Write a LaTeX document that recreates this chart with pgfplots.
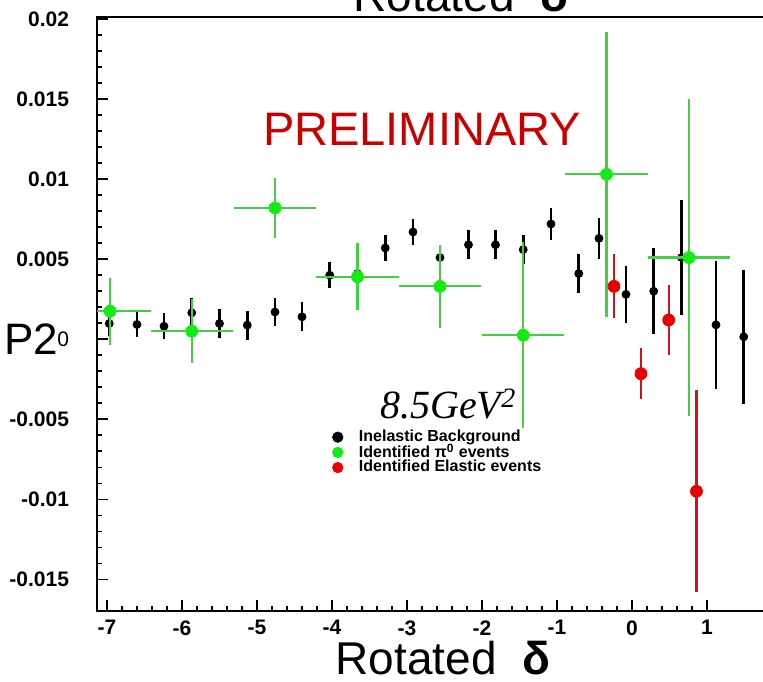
\documentclass[border=0pt]{standalone}
\usepackage{fontspec}
\usepackage{pgfplots}
\usepackage{pgfplotstable}
\pgfplotsset{compat=1.18}
\setmainfont{Liberation Sans}
\newfontfamily\tnr{Liberation Serif}

\definecolor{gmark}{RGB}{20,235,20}
\definecolor{gline}{RGB}{70,205,70}
\definecolor{rmark}{RGB}{235,0,0}
\definecolor{rline}{RGB}{205,20,20}
\definecolor{prelim}{RGB}{200,0,0}

% inelastic background: x, P2, error
\pgfplotstableread{
x y ey
-6.97 0.00098 0.0008
-6.60 0.00092 0.00078
-6.24 0.00081 0.0008
-5.87 0.00165 0.0009
-5.50 0.00098 0.0009
-5.13 0.00088 0.0009
-4.76 0.0017 0.0009
-4.40 0.0014 0.0009
-4.03 0.0040 0.0008
-3.66 0.0041 0.0008
-3.29 0.0057 0.0008
-2.92 0.0067 0.0008
-2.56 0.0051 0.0007
-2.18 0.0059 0.0009
-1.82 0.0059 0.0009
-1.45 0.0056 0.0009
-1.08 0.0072 0.0010
-0.71 0.0041 0.0012
-0.44 0.0063 0.0013
-0.08 0.0028 0.0018
0.29 0.0030 0.0027
0.66 0.0051 0.0036
1.12 0.0009 0.0040
1.49 0.00015 0.0042
}\inel

% identified pi0 events
\pgfplotstableread{
x y ex ey
-6.96 0.00175 0.55 0.0021
-5.87 0.0005 0.55 0.0020
-4.76 0.0082 0.55 0.0019
-3.66 0.0039 0.55 0.0021
-2.56 0.0033 0.55 0.0026
-1.45 0.00025 0.55 0.0058
-0.34 0.0103 0.55 0.0089
0.76 0.0051 0.55 0.0099
}\pion

% identified elastic events
\pgfplotstableread{
x y ey
-0.24 0.0033 0.0020
0.12 -0.00215 0.0016
0.49 0.0012 0.0022
0.86 -0.0095 0.0063
}\elas

\begin{document}
\begin{tikzpicture}
\begin{axis}[
    scale only axis,
    width=335pt, height=297pt,
    xmin=-7.133, xmax=1.8,
    ymin=-0.0170, ymax=0.0201,
    clip mode=individual,
    axis line style={line width=1pt},
    tick pos=left,
    xtick={-7,-6,-5,-4,-3,-2,-1,0,1},
    xticklabels={-7,-6,-5,-4,-3,-2,-1,0,1},
    ytick={-0.015,-0.01,-0.005,0,0.005,0.01,0.015,0.02},
    yticklabels={-0.015,-0.01,-0.005,{\mdseries 0},0.005,0.01,0.015,0.02},
    scaled y ticks=false,
    minor x tick num=4,
    minor y tick num=4,
    major tick length=5.5pt,
    minor tick length=2.5pt,
    tick style={black, line width=0.8pt},
    /pgf/number format/assume math mode=true,
    tick label style={font=\bfseries\fontsize{10.5}{12}\selectfont},
    xticklabel style={yshift=-1pt},
    yticklabel style={xshift=-10.5pt},
    legend style={at={(0.351,0.313)}, anchor=north west, draw=none, fill=none,
        font=\bfseries\fontsize{8}{9}\selectfont, row sep=-4.3pt,
        column sep=6pt, inner sep=0pt},
    legend cell align=left,
    legend image post style={mark size=2.6pt},
]

\addplot[black, only marks, mark=*, mark size=2pt,
    error bars/.cd, y dir=both, y explicit, error mark=none,
    error bar style={line width=1.3pt}]
    table[x=x, y=y, y error=ey] {\inel};
\addlegendentry{Inelastic Background}

\addplot[gline, only marks, mark=*, mark size=3pt,
    mark options={draw=gmark, fill=gmark},
    error bars/.cd, x dir=both, x explicit, y dir=both, y explicit,
    error mark=none, error bar style={gline, line width=1.1pt}]
    table[x=x, y=y, x error=ex, y error=ey] {\pion};
\addlegendentry{Identified π\textsuperscript{0} events}

\addplot[rline, only marks, mark=*, mark size=3pt,
    mark options={draw=rmark, fill=rmark},
    error bars/.cd, y dir=both, y explicit, error mark=none,
    error bar style={rline, line width=1.1pt}]
    table[x=x, y=y, y error=ey] {\elas};
\addlegendentry{Identified Elastic events}

\node[anchor=base, font=\fontsize{23}{26}\selectfont] at (axis cs:-2.52,-0.02094) {Rotated\ \ {\bfseries δ}};
\node[anchor=base, font=\fontsize{23}{26}\selectfont] at (axis cs:-2.28,0.02044) {Rotated\ \ {\bfseries δ}};
\node[anchor=east, font=\fontsize{22}{26}\selectfont, inner sep=0pt] at (axis cs:-7.65,0) {P2};
\node[anchor=base, text=prelim, font=\fontsize{23.5}{26}\selectfont] at (axis cs:-2.8,0.01213) {PRELIMINARY};
\node[anchor=base, font=\tnr\itshape\fontsize{20}{24}\selectfont] at (axis cs:-2.45,-0.00494) {8.5GeV\raisebox{-0.25ex}{\textsuperscript{2}}};

\coordinate (bbsw) at (axis cs:-8.427,-0.021375);
\coordinate (bbne) at (axis cs:1.747,0.02119);
\end{axis}
\pgfresetboundingbox
\path[use as bounding box] (bbsw) rectangle (bbne);
\end{tikzpicture}
\end{document}
